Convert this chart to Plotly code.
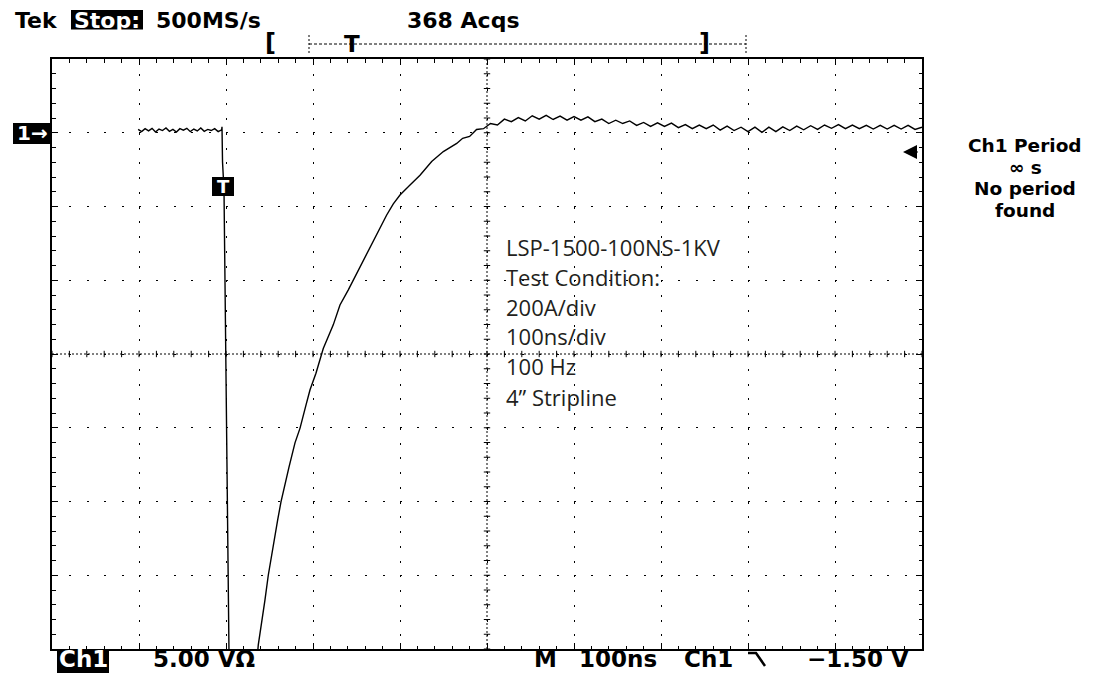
import plotly.graph_objects as go

# ---------------- data: time in ns (100 ns/div), current in A (200 A/div) ----------------
pre_t = [99, 103, 107, 111, 115, 119, 123, 127, 131, 135, 139, 143, 147, 151, 155,
         159, 163, 167, 171, 175, 179, 183, 187, 191, 195]
pre_i = [9, 3, 11, 5, 12, 2, 10, 6, 13, 4, 9, 2, 11, 7, 12, 3, 10, 5, 13, 4, 9, 6, 11, 3, 8]

edge_t = [195.4, 196.0, 197.7, 203.4, 204.6, 220.0, 235.6]
edge_i = [16, -79, -155, -1400, -1539, -1620, -1430]

rise_t = [237.1, 241.0, 244.8, 248.6, 253.7, 259.4, 263.2, 267.8, 272.4, 279.3, 285.1,
          292.0, 296.6, 303.4, 310.0, 311.8, 323.3, 331.0, 340.6, 348.3, 356.0, 363.6,
          371.3, 377.0, 384.7, 392.3, 400.0, 411.5, 423.0, 436.4, 449.8, 465.2]
rise_i = [-1389, -1330, -1267, -1200, -1123, -1050, -1001, -950, -907, -841, -801,
          -738, -697, -652, -603, -585, -521, -467, -426, -390, -354, -318,
          -282, -259, -223, -193, -169, -142, -115, -78, -51, -29]

tail_t = [472, 480, 488, 496, 504, 512, 520, 528, 536, 544, 552, 560, 568, 576, 584,
          592, 600, 608, 616, 624, 632, 640, 648, 656, 664, 672, 680, 688, 696, 704,
          712, 720, 728, 736, 744, 752, 760, 768, 776, 784, 792, 800, 808, 816, 824,
          832, 840, 848, 856, 864, 872, 880, 888, 896, 904, 912, 920, 928, 936, 944,
          952, 960, 968, 976, 984, 992, 1000]
tail_i = [-15, -10, 9, 11, 25, 21, 37, 30, 41, 32, 46, 37, 47, 36, 45,
          34, 44, 34, 43, 30, 37, 25, 34, 25, 32, 20, 28, 17, 27, 17,
          26, 14, 22, 11, 21, 11, 21, 7, 18, 6, 15, 3, 15, 1, 15,
          3, 16, 6, 18, 8, 19, 9, 21, 12, 22, 11, 21, 11, 20, 10,
          20, 10, 20, 10, 20, 9, 15]

t_ns = pre_t + edge_t + rise_t + tail_t
i_amp = pre_i + edge_i + rise_i + tail_i

# axis scales
x_range = [0, 1000]
y_range = [-1400, 200]
x_div, y_div = 100, 200

# screen texts
top_texts = ["Tek", "Stop:", "500MS/s", "368 Acqs"]
bottom_texts = ["Ch1", "5.00 V\u03a9", "M", "100ns", "Ch1", "\u22121.50 V"]
right_texts = ["Ch1 Period", "\u221e s", "No period", "found"]
info_texts = ["LSP-1500-100NS-1KV", "Test Condition:", "200A/div", "100ns/div",
              "100 Hz", "4\u201d Stripline"]

# ---------------- layout geometry (page pixels; page has an 8px body margin) ----------------
PAGE_W, PAGE_H = 1109, 675
OFF = 8
L, T, W, H = 52, 59, 870, 590
FIG_W, FIG_H = PAGE_W - OFF, PAGE_H - OFF


def X(px):
    return (px - L) / W


def Y(py):
    return (T + H - py) / H


BOLD = dict(family="DejaVu Sans", weight="bold", color="black")

fig = go.Figure()
fig.add_trace(go.Scatter(x=t_ns, y=i_amp, mode="lines",
                         line=dict(color="black", width=1.4),
                         hoverinfo="skip", showlegend=False))

annotations = []


def txt(px, pymid, text, size, anchor="left", color="black", font=None):
    f = dict(BOLD) if font is None else dict(font)
    f["size"] = size
    f["color"] = color
    annotations.append(dict(x=X(px), y=Y(pymid), xref="paper", yref="paper",
                            text=text, showarrow=False, xanchor=anchor,
                            yanchor="middle", borderpad=0, font=f))


# top status line
txt(14, 21, top_texts[0], 22)
txt(107, 21, top_texts[1], 22, anchor="center", color="white")
txt(155, 21, top_texts[2], 22)
txt(406, 21, top_texts[3], 22)

# bottom status line
txt(83, 658.7, bottom_texts[0], 23, anchor="center", color="white")
txt(151.5, 658.7, bottom_texts[1], 23)
txt(533, 658.7, bottom_texts[2], 23)
txt(578, 658.7, bottom_texts[3], 23)
txt(683, 658.7, bottom_texts[4], 23)
txt(806, 658.7, bottom_texts[5], 23)

# right measurement readout
for s, ym in zip(right_texts, [145.6, 167.2, 188.8, 210.4]):
    txt(1025, ym, s, 18.5, anchor="center")

# info text block
INFO_FONT = dict(family="Open Sans", color="#231f20")
for s, ym in zip(info_texts, [246.5, 276.5, 306.5, 336, 366.5, 396.5]):
    txt(505, ym, s, 22, font=INFO_FONT, color="#231f20")

# markers
txt(32.5, 133.5, "1\u2192", 20, anchor="center", color="white")
txt(223, 186.5, "T", 18, anchor="center", color="white")
txt(270.5, 43.3, "[", 24, anchor="center")
txt(704.5, 43.3, "]", 24, anchor="center")
txt(352, 43.5, "T", 23, anchor="center")

# trigger level arrow on right edge
annotations.append(dict(x=X(903), y=Y(152), xref="paper", yref="paper", text="",
                        showarrow=True, ax=16, ay=0, arrowhead=2, arrowsize=1.4,
                        arrowwidth=2, arrowcolor="black"))

shapes = []


def box(x0, x1, y0, y1):
    shapes.append(dict(type="rect", xref="paper", yref="paper",
                       x0=X(x0), x1=X(x1), y0=Y(y1), y1=Y(y0),
                       fillcolor="black", line=dict(width=0), layer="above"))


box(71, 143, 10, 29.5)      # Stop:
box(13, 52, 123, 144)       # 1->
box(212, 234, 177, 196)     # trigger T
box(57, 109, 651, 673)      # Ch1

# record-view bracket line above the graticule
for xv in (309, 746):
    shapes.append(dict(type="line", xref="paper", yref="paper",
                       x0=X(xv), x1=X(xv), y0=Y(35), y1=Y(53),
                       line=dict(color="black", width=1, dash="2px,2px")))
shapes.append(dict(type="line", xref="paper", yref="paper",
                   x0=X(309), x1=X(746), y0=Y(44), y1=Y(44),
                   line=dict(color="black", width=1, dash="3px,2px")))

# falling slope symbol
shapes.append(dict(type="path", xref="paper", yref="paper",
                   path="M{},{} L{},{} L{},{}".format(X(748), Y(653), X(756), Y(653),
                                                      X(765), Y(666)),
                   line=dict(color="black", width=2.5)))

# centre crosshair with minor ticks
xc = (x_range[0] + x_range[1]) / 2
yc = (y_range[0] + y_range[1]) / 2
shapes.append(dict(type="line", xref="x", yref="y", x0=x_range[0], x1=x_range[1],
                   y0=yc, y1=yc, line=dict(color="black", width=1, dash="2px,2px"),
                   layer="below"))
shapes.append(dict(type="line", xref="x", yref="y", x0=xc, x1=xc,
                   y0=y_range[0], y1=y_range[1],
                   line=dict(color="black", width=1, dash="2px,2px"), layer="below"))
dy_tick = 3.2 * (y_range[1] - y_range[0]) / H
dx_tick = 3.2 * (x_range[1] - x_range[0]) / W
for k in range(51):
    tx = x_range[0] + k * x_div / 5
    shapes.append(dict(type="line", xref="x", yref="y", x0=tx, x1=tx,
                       y0=yc - dy_tick, y1=yc + dy_tick,
                       line=dict(color="black", width=1), layer="below"))
for k in range(41):
    ty = y_range[0] + k * y_div / 5
    shapes.append(dict(type="line", xref="x", yref="y", x0=xc - dx_tick, x1=xc + dx_tick,
                       y0=ty, y1=ty, line=dict(color="black", width=1), layer="below"))

axis_common = dict(showticklabels=False, zeroline=False, showline=True,
                   linecolor="black", linewidth=2, mirror="allticks",
                   ticks="inside", ticklen=6, tickcolor="black", tickwidth=1.3,
                   showgrid=True, gridcolor="black", gridwidth=1.3, fixedrange=True)

fig.update_layout(
    width=FIG_W, height=FIG_H, autosize=False,
    margin=dict(l=L - OFF, r=FIG_W - (L - OFF) - W, t=T - OFF,
                b=FIG_H - (T - OFF) - H, pad=0),
    paper_bgcolor="white", plot_bgcolor="white",
    xaxis=dict(range=x_range, tick0=0, dtick=x_div, griddash="2px,12.75px",
               minor=dict(dtick=x_div / 5, ticks="inside", ticklen=3.5,
                          tickcolor="black", tickwidth=1.2, showgrid=False),
               **axis_common),
    yaxis=dict(range=y_range, tick0=0, dtick=y_div, griddash="2px,15.4px",
               minor=dict(dtick=y_div / 5, ticks="inside", ticklen=3.5,
                          tickcolor="black", tickwidth=1.2, showgrid=False),
               **axis_common),
    annotations=annotations,
    shapes=shapes,
)

fig.write_html("out.html")
